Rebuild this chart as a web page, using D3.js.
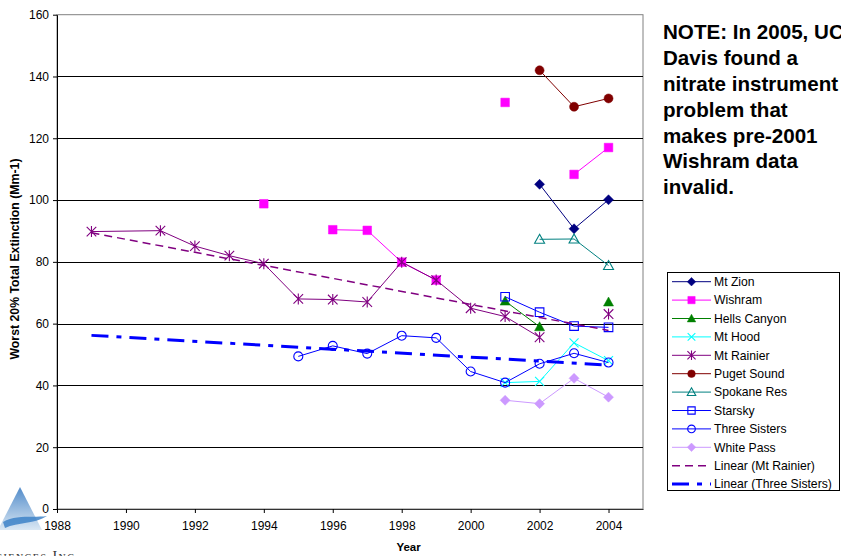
<!DOCTYPE html>
<html>
<head>
<meta charset="utf-8">
<script src="https://cdn.jsdelivr.net/npm/d3@7"></script>
<style>
  html, body { margin: 0; padding: 0; background: #fff; overflow: hidden; }
  svg { display: block; font-family: "Liberation Sans", Arial, sans-serif; }
</style>
</head>
<body>
<svg id="chart" width="841" height="556"></svg>
<script>
// rows of the sheet (1990 has no row, so the Mt Rainier line joins 1989 to 1991)
const years = [1989, 1991, 1992, 1993, 1994, 1995, 1996, 1997, 1998, 1999, 2000, 2001, 2002, 2003, 2004];

const mtZion       = [null, null, null, null, null, null, null, null, null, null, null, null, 105.1, 90.7, 100.1];
const wishram      = [null, null, null, null, 98.8, null, 90.4, 90.2, 79.9, 74.1, null, 131.6, null, 108.3, 117.0];
const hellsCanyon  = [null, null, null, null, null, null, null, null, null, null, null, 67.3, 59.0, null, 67.0];
const mtHood       = [null, null, null, null, null, null, null, null, null, null, null, 40.9, 41.3, 53.8, 48.0];
const mtRainier    = [89.8, 90.1, 85.1, 82.0, 79.4, 68.0, 67.8, 67.0, 79.9, 74.1, 65.0, 62.3, 55.6, null, 63.1];
const pugetSound   = [null, null, null, null, null, null, null, null, null, null, null, null, 142.0, 130.2, 132.9];
const spokaneRes   = [null, null, null, null, null, null, null, null, null, null, null, null, 87.3, 87.4, 78.8];
const starsky      = [null, null, null, null, null, null, null, null, null, null, null, 68.7, 63.7, 59.2, 58.8];
const threeSisters = [null, null, null, null, null, 49.4, 52.8, 50.3, 56.1, 55.4, 44.5, 40.9, 47.0, 50.4, 47.4];
const whitePass    = [null, null, null, null, null, null, null, null, null, null, null, 35.2, 34.1, 42.3, 36.2];

// trend line ends
const trendYears = [1989, 2004];
const rainierTrend = [89.4, 57.8];
const threeSistersTrend = [56.2, 46.6];

const xTicks = [1988, 1990, 1992, 1994, 1996, 1998, 2000, 2002, 2004];
const yTicks = [0, 20, 40, 60, 80, 100, 120, 140, 160];

const noteLines = ["NOTE: In 2005, UC", "Davis found a", "nitrate instrument", "problem that", "makes pre-2001", "Wishram data", "invalid."];

document.addEventListener("DOMContentLoaded", function () {
  const svg = d3.select("#chart");

  const x = d3.scaleLinear().domain([1988, 2005]).range([57, 643]);
  const y = d3.scaleLinear().domain([0, 160]).range([509, 14.7]);

  const series = [
    { name: "Mt Zion", values: mtZion, color: "#000080", marker: "diamond" },
    { name: "Wishram", values: wishram, color: "#FF00FF", marker: "square" },
    { name: "Hells Canyon", values: hellsCanyon, color: "#008000", marker: "triangle" },
    { name: "Mt Hood", values: mtHood, color: "#00FFFF", marker: "x" },
    { name: "Mt Rainier", values: mtRainier, color: "#800080", marker: "asterisk" },
    { name: "Puget Sound", values: pugetSound, color: "#800000", marker: "circle" },
    { name: "Spokane Res", values: spokaneRes, color: "#008080", marker: "triangleOpen" },
    { name: "Starsky", values: starsky, color: "#0000FF", marker: "squareOpen" },
    { name: "Three Sisters", values: threeSisters, color: "#0000FF", marker: "circleOpen" },
    { name: "White Pass", values: whitePass, color: "#CC99FF", marker: "diamond" },
  ];

  const trends = [
    { name: "Linear (Mt Rainier)", values: rainierTrend, color: "#800080", width: 1.5, dash: "8,5" },
    { name: "Linear (Three Sisters)", values: threeSistersTrend, color: "#0000FF", width: 3, dash: "17,8,5,8" },
  ];

  // plot frame and grid
  svg.append("rect")
    .attr("x", x(1988)).attr("y", y(160))
    .attr("width", x(2005) - x(1988)).attr("height", y(0) - y(160))
    .attr("fill", "#fff").attr("stroke", "#808080").attr("stroke-width", 1);

  svg.append("g")
    .selectAll("line")
    .data(yTicks.filter((d) => d > 0 && d < 160))
    .enter()
    .append("line")
    .attr("x1", x(1988)).attr("x2", x(2005))
    .attr("y1", (d) => Math.round(y(d)) + 0.5).attr("y2", (d) => Math.round(y(d)) + 0.5)
    .attr("stroke", "#000").attr("stroke-width", 1);

  const xAxis = svg.append("g")
    .attr("transform", `translate(0,${y(0)})`)
    .call(d3.axisBottom(x).tickValues(xTicks).tickSize(4).tickSizeOuter(0).tickFormat(d3.format("d")));
  xAxis.select(".domain").attr("stroke", "#333");

  const yAxis = svg.append("g")
    .attr("transform", `translate(${x(1988)},0)`)
    .call(d3.axisLeft(y).tickValues(yTicks).tickSize(4).tickSizeOuter(0));
  yAxis.select(".domain").attr("stroke", "#000");

  svg.selectAll(".tick text")
    .attr("font-family", "'Liberation Sans', Arial, sans-serif")
    .attr("font-size", 12)
    .attr("fill", "#000");
  xAxis.selectAll(".tick text").attr("dy", "1.15em");
  yAxis.selectAll(".tick text").attr("x", -8);

  // axis titles
  svg.append("text")
    .attr("x", x(1998.2)).attr("y", 551)
    .attr("text-anchor", "middle")
    .attr("font-size", 11.5).attr("font-weight", "bold")
    .text("Year");

  svg.append("text")
    .attr("transform", "translate(19,259) rotate(-90)")
    .attr("text-anchor", "middle")
    .attr("font-size", 12.3).attr("font-weight", "bold")
    .text("Worst 20% Total Extinction (Mm-1)");

  function markerPath(type, s) {
    switch (type) {
      case "diamond": return `M0,${-s}L${s},0L0,${s}L${-s},0Z`;
      case "square":
      case "squareOpen": return `M${-s},${-s}H${s}V${s}H${-s}Z`;
      case "triangle":
      case "triangleOpen": return `M0,${-s}L${s},${s * 0.8}L${-s},${s * 0.8}Z`;
      case "x": return `M${-s},${-s}L${s},${s}M${-s},${s}L${s},${-s}`;
      case "asterisk": return `M${-s},${-s}L${s},${s}M${-s},${s}L${s},${-s}M0,${-s * 1.15}V${s * 1.15}`;
      default: return d3.arc()({ innerRadius: 0, outerRadius: s, startAngle: 0, endAngle: 2 * Math.PI });
    }
  }

  function drawMarker(sel, d, size) {
    const open = /Open$/.test(d.marker) || d.marker === "x" || d.marker === "asterisk";
    const sz = { diamond: 5, square: 4.3, triangle: 5, x: 4.5, asterisk: 4.8, circle: 4.5,
      triangleOpen: 5, squareOpen: 4.3, circleOpen: 4.5 }[d.marker] * size;
    sel.append("path")
      .attr("d", markerPath(d.marker, sz))
      .attr("fill", open ? "none" : d.color)
      .attr("stroke", d.color)
      .attr("stroke-width", open ? 1.1 : 0.5);
  }

  const line = d3.line()
    .defined((d) => d[1] !== null)
    .x((d) => x(d[0]))
    .y((d) => y(d[1]));

  series.forEach((s) => {
    const pts = years.map((yr, i) => [yr, s.values[i]]);
    const g = svg.append("g");
    g.append("path")
      .attr("d", line(pts))
      .attr("fill", "none")
      .attr("stroke", s.color)
      .attr("stroke-width", 1);
    pts.filter((p) => p[1] !== null).forEach((p) => {
      const m = g.append("g").attr("transform", `translate(${x(p[0])},${y(p[1])})`);
      drawMarker(m, s, 1);
    });
  });

  trends.forEach((t) => {
    svg.append("path")
      .attr("d", line(trendYears.map((yr, i) => [yr, t.values[i]])))
      .attr("fill", "none")
      .attr("stroke", t.color)
      .attr("stroke-width", t.width)
      .attr("stroke-dasharray", t.dash);
  });

  // legend
  const legend = svg.append("g");
  legend.append("rect")
    .attr("x", 667.5).attr("y", 272.5).attr("width", 172).attr("height", 218)
    .attr("fill", "#fff").attr("stroke", "#000").attr("stroke-width", 1);

  const legendItems = series.concat(trends);
  legendItems.forEach((d, i) => {
    const cy = 281.7 + i * 18.4;
    const row = legend.append("g").attr("transform", `translate(0,${cy})`);
    row.append("line")
      .attr("x1", 672).attr("x2", 711)
      .attr("stroke", d.color)
      .attr("stroke-width", d.width || 1)
      .attr("stroke-dasharray", d.dash || null);
    if (d.marker) {
      const m = row.append("g").attr("transform", "translate(691.5,0)");
      drawMarker(m, d, 0.85);
    }
    row.append("text")
      .attr("x", 714).attr("y", 4.3)
      .attr("font-size", 12.2)
      .text(d.name);
  });

  // note
  svg.append("g")
    .selectAll("text")
    .data(noteLines)
    .enter()
    .append("text")
    .attr("x", 663)
    .attr("y", (d, i) => 39.3 + i * 25.8)
    .attr("font-size", 20.6)
    .attr("font-weight", "bold")
    .text((d) => d);

  // company logo in the corner
  const defs = svg.append("defs");
  const grad = defs.append("linearGradient")
    .attr("id", "logoGrad").attr("x1", 0).attr("y1", 0).attr("x2", 0).attr("y2", 1);
  grad.append("stop").attr("offset", "0%").attr("stop-color", "#3f7fc4");
  grad.append("stop").attr("offset", "100%").attr("stop-color", "#d6e5f3");

  const logo = svg.append("g");
  logo.append("path")
    .attr("d", "M20,487 L42,530 L-2,530 Z")
    .attr("fill", "url(#logoGrad)")
    .attr("opacity", 0.9);
  logo.append("path")
    .attr("d", "M3,522 C16,514 34,518 47,516 C35,524 18,522 5,528 Z")
    .attr("fill", "#3d82c8")
    .attr("opacity", 0.85);
  logo.append("text")
    .attr("x", -14).attr("y", 561)
    .attr("font-family", "'Liberation Serif', 'DejaVu Serif', serif")
    .attr("font-size", 14)
    .attr("font-variant", "small-caps")
    .attr("letter-spacing", 1.5)
    .attr("fill", "#333")
    .text("Sciences Inc.");
});
</script>
</body>
</html>
